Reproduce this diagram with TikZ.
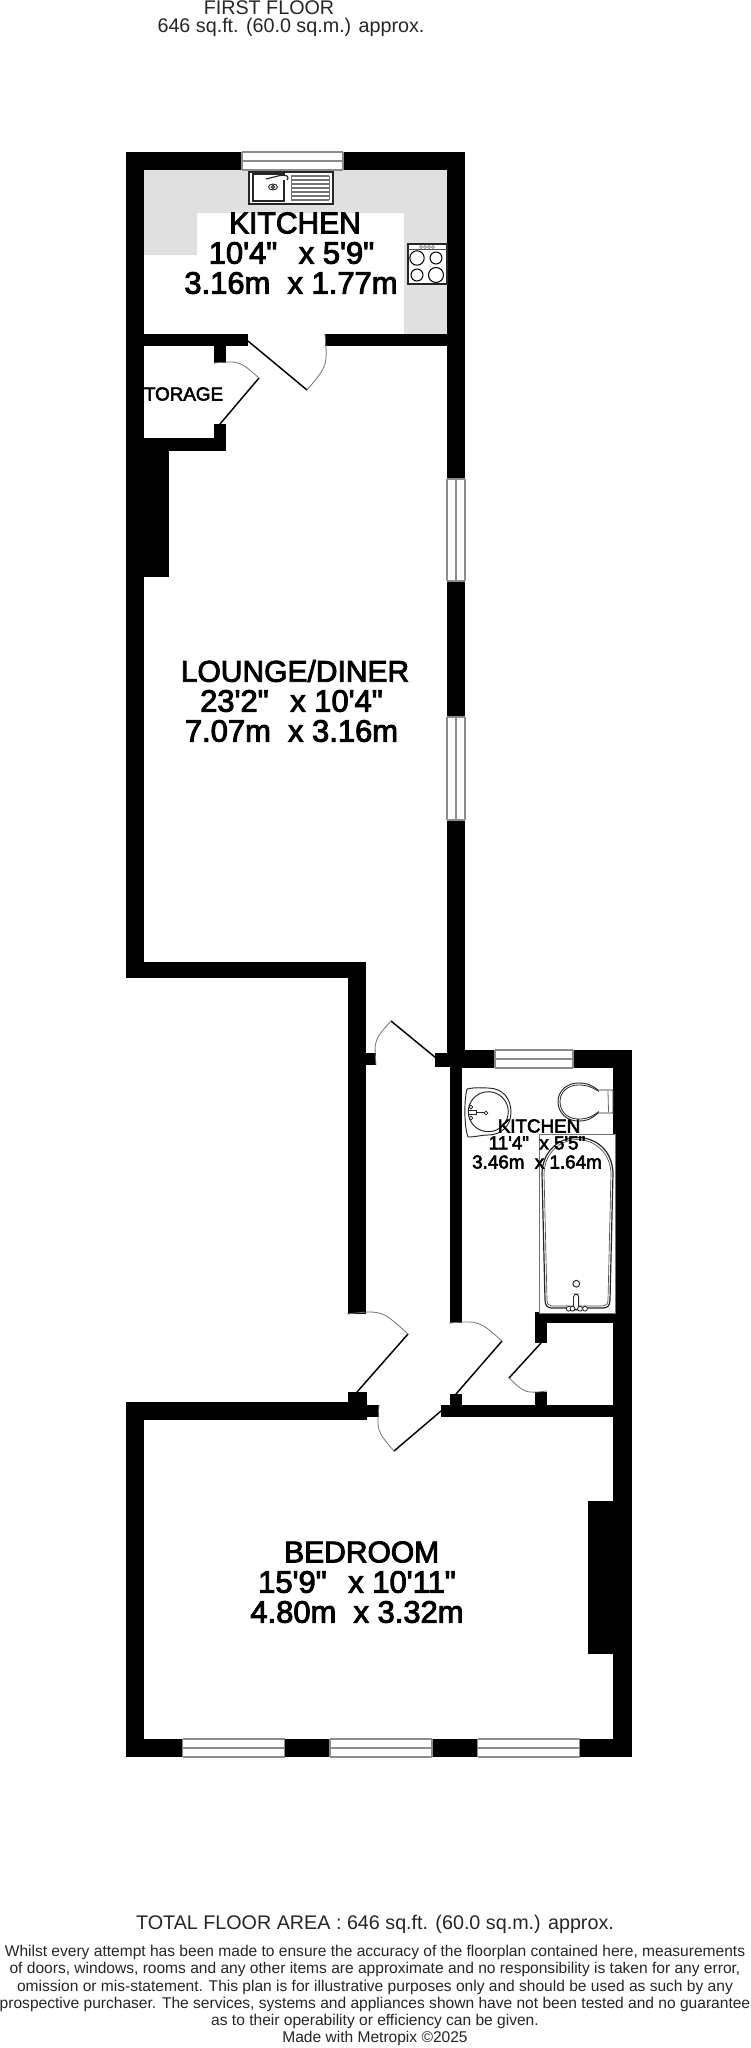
\documentclass[tikz,border=0pt]{standalone}
\usepackage{fontspec}
\setmainfont{Liberation Sans}
\newfontfamily\labfont[FakeBold=3]{Liberation Sans}
\usetikzlibrary{calc}
\newcommand\wallrect[4]{\fill[black] (#1,#2) rectangle (#3,#4);}
\newcommand\winh[3]{\fill[white] (#1,#3) rectangle (#2,#3+18);
  \draw[winline] (#1,#3) -- (#2,#3); \draw[winline] (#1,#3+9) -- (#2,#3+9); \draw[winline] (#1,#3+18) -- (#2,#3+18);
  \draw[winline] (#1,#3) -- (#1,#3+18); \draw[winline] (#2,#3) -- (#2,#3+18);}
\newcommand\winv[3]{\fill[white] (#3,#1) rectangle (#3+18,#2);
  \draw[winline] (#3,#1) -- (#3,#2); \draw[winline] (#3+9,#1) -- (#3+9,#2); \draw[winline] (#3+18,#1) -- (#3+18,#2);
  \draw[winline] (#3,#1) -- (#3+18,#1); \draw[winline] (#3,#2) -- (#3+18,#2);}
\newcommand\doorswing[4]{\draw[leaf] (#1) -- (#2); \draw[swing] (#2) .. controls (#3) .. (#4);}
\newcommand\gapx{\hspace{.42em}}
\tikzset{
  winline/.style={draw=black!45,line width=1pt},
  leaf/.style={black,line width=1.1pt},
  swing/.style={draw=black!55,line width=.6pt},
  fix/.style={draw=black!85,line width=.7pt,fill=white},
  fixg/.style={draw=black!55,line width=.9pt},
  roomlab/.style={font=\labfont\fontsize{22.5pt}{22.5pt}\selectfont,inner sep=0pt,anchor=center},
  roomdim/.style={font=\labfont\fontsize{23.2pt}{23.2pt}\selectfont,inner sep=0pt,anchor=center},
  smalllab/.style={font=\labfont\fontsize{14.1pt}{14.1pt}\selectfont,inner sep=0pt,anchor=center},
  foot/.style={font=\fontsize{11.67pt}{11.67pt}\selectfont,inner sep=0pt,anchor=center,text=black!85},
  headt/.style={font=\fontsize{14.8pt}{14.8pt}\selectfont,inner sep=0pt,anchor=center,text=black!85},
}
\begin{document}
\begin{tikzpicture}[x=0.75pt,y=-0.75pt]
\useasboundingbox (0,0) rectangle (750,2048);
\fill[white] (0,0) rectangle (750,2048);
% kitchen worktop
\fill[black!12] (144,170) -- (447,170) -- (447,334) -- (404,334) -- (404,213) -- (197,213) -- (197,255) -- (144,255) -- cycle;
% walls: lounge / kitchen
\wallrect{126}{152}{465}{170}
\wallrect{126}{152}{144}{978}
\wallrect{447}{152}{465}{1053}
\wallrect{126}{334}{248}{346}
\wallrect{325}{334}{465}{346}
\wallrect{214}{346}{226}{363}
\wallrect{214}{424}{226}{451}
\wallrect{126}{438}{226}{451}
\wallrect{126}{451}{169}{577}
\wallrect{126}{962}{366}{978}
\wallrect{348}{962}{366}{1314}
\wallrect{366}{1053}{376}{1065}
\wallrect{435}{1053}{462}{1067}
% bathroom
\wallrect{450}{1050}{632}{1068}
\wallrect{450}{1067}{462}{1323}
\wallrect{613}{1050}{632}{1757}
\wallrect{535}{1314}{632}{1323}
\wallrect{535}{1312}{547}{1343}
\wallrect{535}{1392}{547}{1405}
\wallrect{441}{1405}{632}{1417}
\wallrect{450}{1394}{462}{1405}
% bedroom
\wallrect{126}{1402}{367}{1420}
\wallrect{348}{1392}{367}{1420}
\wallrect{367}{1405}{379}{1417}
\wallrect{126}{1402}{144}{1757}
\wallrect{126}{1739}{632}{1757}
\wallrect{588}{1501}{613}{1654}
% windows
\winh{242}{343}{152}
\winv{479}{581}{447}
\winv{717}{820}{447}
\winh{495}{573}{1050}
\winh{182.5}{284.6}{1739}
\winh{330}{432}{1739}
\winh{477.7}{579.8}{1739}
% doors
\doorswing{248,341}{307,390}{327.6,365.6}{325,334}
\doorswing{220,424}{259,378}{239.5,360.8}{214,363}
\doorswing{436,1058}{391,1021}{374,1040}{376,1065}
\doorswing{357,1392}{408,1334}{381.7,1310}{347,1314}
\doorswing{456,1394}{502,1341}{479,1320.6}{449,1323}
\doorswing{541,1343}{509,1378}{525.2,1393.4}{547,1391}
\doorswing{441,1411}{394,1451}{376.7,1431}{379,1405}
% kitchen sink
\draw[fix,line width=1pt] (249,172) rectangle (333,204);
\draw[fix,line width=.8pt] (253,174) rectangle (284,201);
\draw[fix] (273,187) ellipse (4.5 and 3);
\draw[fix] (273,187) circle (1.6);
\draw[fix,line width=.9pt] (266,179) -- (280,175.5) .. controls (284,175) and (288,175) .. (288,178) -- (287,180);
\foreach \yy in {176,180,184,188,192,196,200}{\draw[black!55,line width=.8pt] (291,\yy) -- (329,\yy);}
\draw[black!55,line width=.5pt] (291,176) -- (291,200) (329,176) -- (329,200);
% cooker
\draw[fix,line width=1pt] (408,244) rectangle (447,284);
\draw[black!70,line width=.6pt] (408,249) -- (447,249);
\foreach \xx in {421,425,429,433}{\draw[black!60,line width=.4pt] (\xx,247) circle (1.5);}
\draw[black,line width=.8pt,fill=white] (417,258) circle (7.2);
\draw[black,line width=.8pt,fill=white] (436,258) circle (6);
\draw[black,line width=.8pt,fill=white] (417,275) circle (6);
\draw[black,line width=.8pt,fill=white] (436,275) circle (7.5);
% bathroom basin
\draw[fix] (467,1089) .. controls (476,1087) and (482,1088) .. (488,1088) .. controls (503,1088) and (511,1099) .. (511,1112) .. controls (511,1126) and (501,1135) .. (488,1135) .. controls (481,1135) and (476,1137) .. (468,1137) .. controls (464,1126) and (464,1100) .. (467,1089) -- cycle;
\draw[fix] (488.3,1111.7) circle (20);
\draw[black!85,line width=.6pt] (471,1112) -- (486,1112);
\draw[fix,line width=.6pt] (471,1107) circle (1.9);
\draw[fix,line width=.6pt] (471,1112) circle (1.9);
\draw[fix,line width=.6pt] (471,1118) circle (1.9);
\draw[fix,line width=.6pt] (486,1113) circle (1.9);
\draw[fix,line width=.6pt] (468,1110) rectangle (476,1114);
% toilet
\draw[fix] (598,1090) -- (613,1090) -- (613,1113) -- (598,1113) .. controls (590,1120) and (586,1121) .. (578,1121) .. controls (567,1121) and (558,1113) .. (558,1101.5) .. controls (558,1091) and (567,1083) .. (578,1083) .. controls (586,1083) and (590,1084) .. (598,1090) -- cycle;
\draw[black!85,line width=.6pt] (599,1091.5) .. controls (590,1086) and (586,1085) .. (578,1085) .. controls (568,1085) and (560,1092) .. (560,1101.5) .. controls (560,1112) and (568,1119) .. (578,1119) .. controls (586,1119) and (590,1118) .. (599,1111.5);
\draw[black!60,line width=.6pt] (608,1091) -- (608.5,1112);
% bath
\fill[white] (539.3,1134.3) rectangle (615.7,1313.3);
\draw[fixg] (539.3,1134.3) rectangle (615.7,1313.3);
\draw[fix,line width=.9pt] (542,1173) .. controls (543,1150) and (560,1137.5) .. (577,1137.5) .. controls (596,1137.5) and (612,1150) .. (613,1173) -- (610,1300) .. controls (610,1306) and (607,1308) .. (603,1308) -- (552,1308) .. controls (548,1308) and (545,1306) .. (545,1300) -- cycle;
\draw[black!70,line width=.5pt] (544,1173) .. controls (545,1152) and (561,1139.5) .. (577,1139.5) .. controls (594,1139.5) and (610,1152) .. (611,1173) -- (608,1300) .. controls (608,1304) and (606,1306) .. (603,1306) -- (552,1306) .. controls (549,1306) and (547,1304) .. (547,1300) -- cycle;
\draw[fix] (576.3,1283.7) circle (3.4);
\draw[fix,rounded corners=2.4pt] (573.5,1310) -- (573.5,1294) -- (578.7,1294) -- (578.7,1310) -- cycle;
\foreach \xx in {568.7,572.5,580,585}{\draw[fix,line width=.6pt] (\xx,1308.7) circle (2.4);}
% texts
\node[headt] (firstfloor) at (269,8) {FIRST FLOOR};
\node[headt] (floorarea) at (291,27) {646 sq.ft. (60.0 sq.m.) approx.};
\node[roomlab] (k1) at (295,223) {KITCHEN};
\node[roomdim] (k2) at (291.5,253) {10'4"\gapx\ x 5'9"};
\node[roomdim] (k3) at (291,283) {3.16m\ \ x 1.77m};
\node[smalllab] (storage) at (183.5,394) {TORAGE};
\node[roomlab] (l1) at (295,671) {LOUNGE/DINER};
\node[roomdim] (l2) at (291.5,701) {23'2"\gapx\ x 10'4"};
\node[roomdim] (l3) at (291.5,731) {7.07m\ \ x 3.16m};
\node[smalllab] (b1) at (539,1126) {KITCHEN};
\node[smalllab] (b2) at (537,1143) {11'4"\ \ x 5'5"};
\node[smalllab] (b3) at (537,1162) {3.46m\ \ x 1.64m};
\node[roomlab] (r1) at (361.7,1552) {BEDROOM};
\node[roomdim] (r2) at (357,1582) {15'9"\gapx\ x 10'11"};
\node[roomdim] (r3) at (357,1612) {4.80m\ \ x 3.32m};
\node[headt] (total) at (375,1924) {TOTAL FLOOR AREA : 646 sq.ft. (60.0 sq.m.) approx.};
\node[foot] (d1) at (375,1952) {Whilst every attempt has been made to ensure the accuracy of the floorplan contained here, measurements};
\node[foot] (d2) at (375,1969.5) {of doors, windows, rooms and any other items are approximate and no responsibility is taken for any error,};
\node[foot] (d3) at (375,1987) {omission or mis-statement. This plan is for illustrative purposes only and should be used as such by any};
\node[foot] (d4) at (375,2004) {prospective purchaser. The services, systems and appliances shown have not been tested and no guarantee};
\node[foot] (d5) at (375,2021.5) {as to their operability or efficiency can be given.};
\node[foot] (d6) at (375,2038.5) {Made with Metropix ©2025};
\end{tikzpicture}
\end{document}
